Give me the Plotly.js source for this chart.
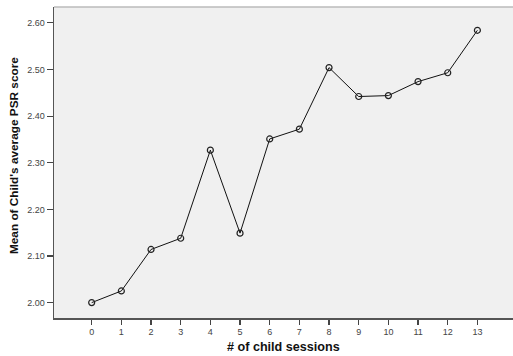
<!DOCTYPE html>
<html>
<head>
<meta charset="utf-8">
<script src="https://cdn.plot.ly/plotly-3.0.1.min.js"></script>
<style>html,body{margin:0;padding:0;background:#fff;}#chart{width:513px;height:356px;}</style>
</head>
<body>
<div id="chart"></div>
<script>
const sessions = [0, 1, 2, 3, 4, 5, 6, 7, 8, 9, 10, 11, 12, 13];
const meanPSR = [2.000, 2.025, 2.114, 2.138, 2.327, 2.149, 2.351, 2.372, 2.504, 2.442, 2.444, 2.474, 2.493, 2.584];
const yTickVals = [2.0, 2.1, 2.2, 2.3, 2.4, 2.5, 2.6];
const yTickText = ["2.00", "2.10", "2.20", "2.30", "2.40", "2.50", "2.60"];
const xTitle = '# of child sessions';
const yTitle = "Mean of Child's average PSR score";

const trace = {
  x: sessions, y: meanPSR, type: 'scatter', mode: 'lines+markers',
  line: {color: '#111', width: 1},
  marker: {symbol: 'circle-open', size: 6, color: '#222', line: {width: 1.2, color: '#222'}},
  hoverinfo: 'skip'
};
const titleFont = {family: 'Liberation Sans, Arial, sans-serif', color: '#111', weight: 'bold'};
const layout = {
  width: 513, height: 356,
  margin: {l: 54, r: 0, t: 7, b: 38},
  paper_bgcolor: '#ffffff', plot_bgcolor: '#f0f0f0',
  showlegend: false,
  font: {family: 'Liberation Sans, Arial, sans-serif', color: '#444'},
  xaxis: {
    range: [-1.27, 14.2], tickvals: sessions, ticktext: sessions.map(String),
    showgrid: false, zeroline: false,
    showline: true, linecolor: '#555', linewidth: 1.5,
    ticks: 'outside', ticklen: 5, tickwidth: 1.2, tickcolor: '#444',
    tickfont: {size: 9, color: '#444'}
  },
  yaxis: {
    range: [1.967, 2.634], tickvals: yTickVals, ticktext: yTickText,
    showgrid: false, zeroline: false,
    showline: true, linecolor: '#555', linewidth: 1.5,
    ticks: 'outside', ticklen: 6, tickwidth: 1.2, tickcolor: '#444',
    tickfont: {size: 9, color: '#444'}
  },
  annotations: [
    {text: xTitle, xref: 'paper', yref: 'paper', x: 0.501, y: -0.093, xanchor: 'center', yanchor: 'middle',
     showarrow: false, font: Object.assign({size: 12.6}, titleFont)},
    {text: yTitle, xref: 'paper', yref: 'paper', x: -0.087, y: 0.521, xanchor: 'center', yanchor: 'middle',
     textangle: -90, showarrow: false, font: Object.assign({size: 11.8}, titleFont)}
  ],
  shapes: [{type: 'line', xref: 'paper', yref: 'paper', x0: 0, x1: 1, y0: 1, y1: 1, line: {color: '#bbb', width: 1.5}}]
};
Plotly.newPlot('chart', [trace], layout, {displayModeBar: false, staticPlot: true});
</script>
</body>
</html>
